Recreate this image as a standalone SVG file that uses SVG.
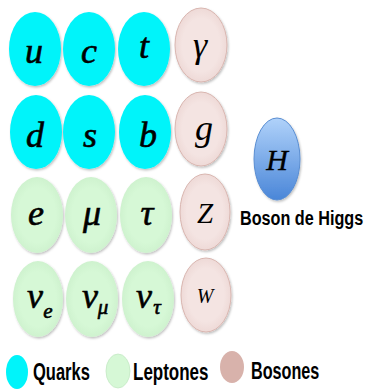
<svg xmlns="http://www.w3.org/2000/svg" width="368" height="390" viewBox="0 0 368 390">
<defs>
<filter id="sh" x="-20%" y="-20%" width="140%" height="140%">
<feDropShadow dx="1" dy="1.5" stdDeviation="1.2" flood-color="#000" flood-opacity="0.25"/>
</filter>
<linearGradient id="hg" x1="0" y1="0" x2="0" y2="1">
<stop offset="0" stop-color="#b0d2fa"/>
<stop offset="1" stop-color="#4a86d8"/>
</linearGradient>
<radialGradient id="bg" cx="0.5" cy="0.5" r="0.6">
<stop offset="0.6" stop-color="#f4e4e2"/>
<stop offset="1" stop-color="#ead2cf"/>
</radialGradient>
<radialGradient id="lg" cx="0.5" cy="0.5" r="0.6">
<stop offset="0.6" stop-color="#d6f8d6"/>
<stop offset="1" stop-color="#c9eec9"/>
</radialGradient>
</defs>
<style>
.q{fill:#00f4fa;filter:url(#sh)}
.l{fill:url(#lg);filter:url(#sh)}
.b{fill:url(#bg);stroke:#d9b6b0;stroke-width:1;filter:url(#sh)}
.h{fill:url(#hg);stroke:#5a8ed2;stroke-width:1;filter:url(#sh)}
.s{font-family:"Liberation Serif","Times New Roman",serif;font-style:italic;font-size:36px;fill:#000;stroke:#000;stroke-width:0.6;text-anchor:middle}
.n{stroke-width:0}
.sub{font-size:21px}
.t{font-family:"Liberation Sans",Arial,sans-serif;font-weight:bold;fill:#000}
</style>
<g id="u"><ellipse class="q" cx="35" cy="49" rx="26" ry="37"/><text class="s" x="34" y="63">u</text></g>
<g id="c"><ellipse class="q" cx="89" cy="49" rx="26" ry="37"/><text class="s" x="89" y="63">c</text></g>
<g id="t"><ellipse class="q" cx="144" cy="49" rx="26" ry="37"/><text class="s" x="144" y="58">t</text></g>
<g id="gamma"><ellipse class="b" cx="201" cy="45" rx="26" ry="37"/><text class="s n" x="200" y="57">γ</text></g>
<g id="d"><ellipse class="q" cx="36" cy="132" rx="26" ry="37"/><text class="s" x="35" y="147">d</text></g>
<g id="s"><ellipse class="q" cx="89" cy="132" rx="26" ry="37"/><text class="s" x="90" y="147">s</text></g>
<g id="b"><ellipse class="q" cx="145" cy="132" rx="26" ry="37"/><text class="s" x="148" y="147">b</text></g>
<g id="g"><ellipse class="b" cx="201" cy="129" rx="26" ry="37"/><text class="s n" x="204" y="140">g</text></g>
<g id="e"><ellipse class="l" cx="37" cy="215" rx="26" ry="38"/><text class="s" x="36" y="225">e</text></g>
<g id="mu"><ellipse class="l" cx="91" cy="215" rx="26" ry="38"/><text class="s" x="92" y="225">μ</text></g>
<g id="tau"><ellipse class="l" cx="146" cy="215" rx="26" ry="38"/><text class="s" x="147" y="225">τ</text></g>
<g id="Z"><ellipse class="b" cx="205" cy="212" rx="25" ry="38"/><text class="s n" x="205" y="223" style="font-size:29px">Z</text></g>
<g id="nu_e"><ellipse class="l" cx="38" cy="299" rx="25" ry="38"/><text class="s" x="35" y="308">ν</text><text class="s sub" x="48" y="318">e</text></g>
<g id="nu_mu"><ellipse class="l" cx="92" cy="299" rx="26" ry="38"/><text class="s" x="90" y="308">ν</text><text class="s sub" x="103" y="314">μ</text></g>
<g id="nu_tau"><ellipse class="l" cx="148" cy="299" rx="26" ry="38"/><text class="s" x="144" y="308">ν</text><text class="s sub" x="157" y="314">τ</text></g>
<g id="W"><ellipse class="b" cx="206" cy="295" rx="25" ry="37"/><text class="s n" x="205" y="303" style="font-size:20px">W</text></g>
<g id="H"><ellipse class="h" cx="277" cy="159" rx="23" ry="41"/><text class="s" x="277" y="170" style="font-size:30px;stroke-width:0.3">H</text></g>
<g id="higgs-label"><text class="t" transform="translate(240 225) scale(1 1.28)" font-size="16.2">Boson de Higgs</text></g>
<g id="legend">
<ellipse cx="17" cy="372" rx="11" ry="17" fill="#00f4fa"/>
<text class="t" transform="translate(33 380) scale(1 1.45)" font-size="16.5">Quarks</text>
<ellipse cx="118" cy="371" rx="12" ry="17" fill="#d6f8d6" stroke="#c4e8c4" stroke-width="0.8"/>
<text class="t" transform="translate(133 380) scale(1 1.45)" font-size="17">Leptones</text>
<ellipse cx="232" cy="367" rx="12" ry="16" fill="#d8b2ab"/>
<text class="t" transform="translate(251 379) scale(1 1.45)" font-size="16.2">Bosones</text>
</g>
<g id="connectors"/>
</svg>
